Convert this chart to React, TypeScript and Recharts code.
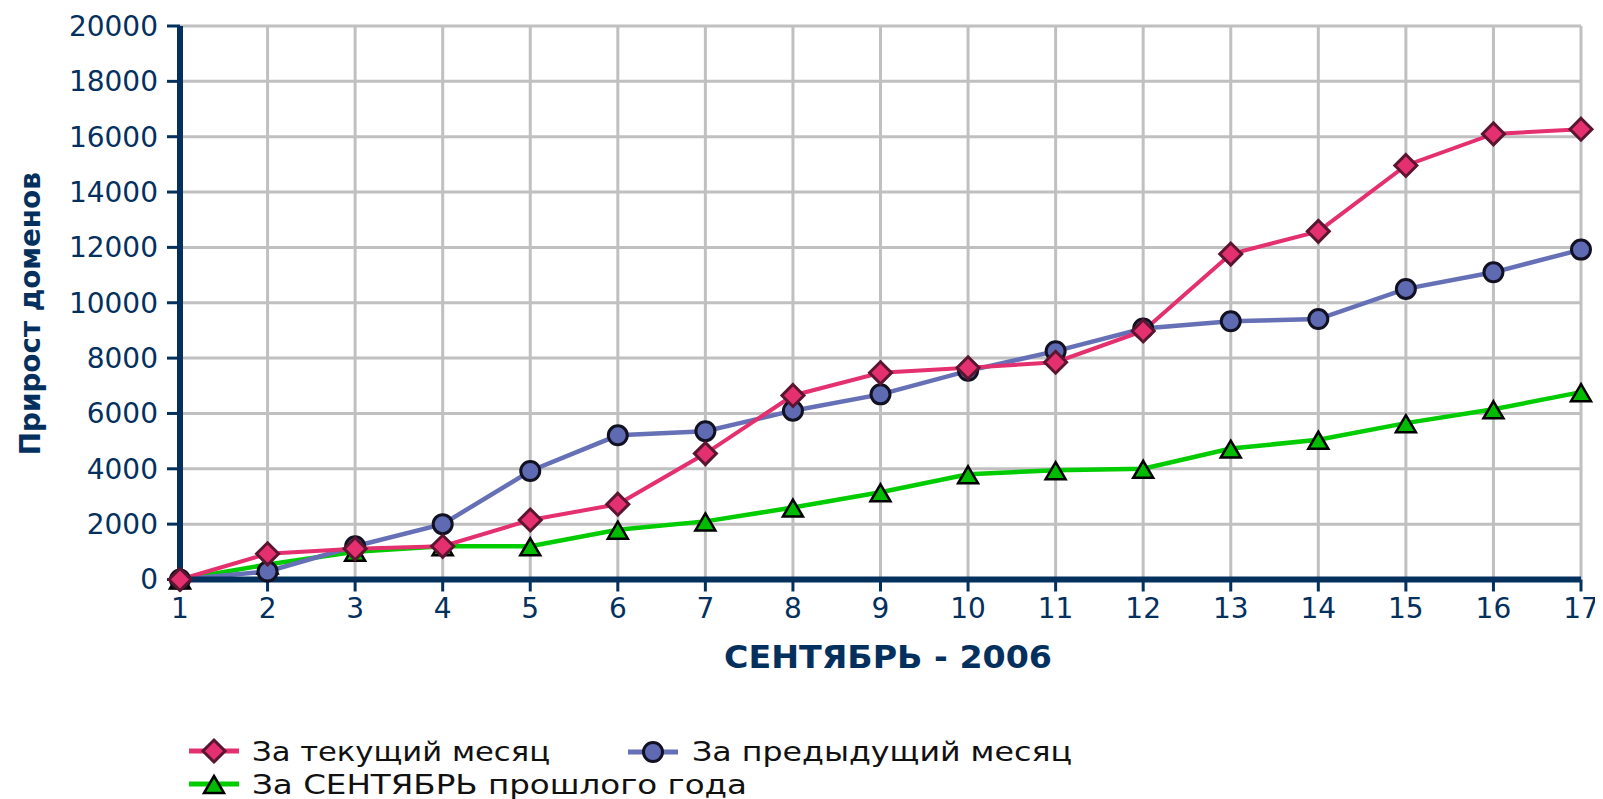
import React from 'react';
import { LineChart, Line, XAxis, YAxis, CartesianGrid } from 'recharts';

const days = [1, 2, 3, 4, 5, 6, 7, 8, 9, 10, 11, 12, 13, 14, 15, 16, 17];
const currentMonth = [0, 930, 1110, 1200, 2150, 2720, 4550, 6650, 7470, 7650, 7850, 8980, 11760, 12580, 14960, 16100, 16270];
const previousMonth = [0, 290, 1200, 2000, 3920, 5210, 5360, 6100, 6690, 7540, 8250, 9070, 9330, 9410, 10500, 11100, 11920];
const lastYearSeptember = [0, 540, 1000, 1200, 1200, 1800, 2100, 2600, 3150, 3800, 3950, 4000, 4730, 5050, 5650, 6150, 6770];
const yTicks = [0, 2000, 4000, 6000, 8000, 10000, 12000, 14000, 16000, 18000, 20000];
const seriesNames = ['За текущий месяц', 'За предыдущий месяц', 'За СЕНТЯБРЬ прошлого года'];
const xAxisTitle = 'СЕНТЯБРЬ - 2006';
const yAxisTitle = 'Прирост доменов';

const data = days.map((d, i) => ({
  day: d,
  cur: currentMonth[i],
  prev: previousMonth[i],
  last: lastYearSeptember[i],
}));

const NAVY = '#04305e';
const PINK = '#e4306e';
const PINK_STROKE = '#5a1630';
const BLUE = '#6670b6';
const BLUE_FILL = '#5e6ab2';
const GREEN = '#00cc00';
const GREEN_FILL = '#00bb00';
const GRID = '#c0c0c0';

const Diamond = (props: any) => {
  const { cx, cy, index } = props;
  if (cx == null || cy == null) return <g key={index} />;
  const r = 11;
  return (
    <path
      key={`d${index}`}
      d={`M${cx},${cy - r}L${cx + r},${cy}L${cx},${cy + r}L${cx - r},${cy}Z`}
      fill={PINK}
      stroke={PINK_STROKE}
      strokeWidth={3}
    />
  );
};

const Circle = (props: any) => {
  const { cx, cy, index } = props;
  if (cx == null || cy == null) return <g key={index} />;
  return <circle key={`c${index}`} cx={cx} cy={cy} r={9.5} fill={BLUE_FILL} stroke="#111122" strokeWidth={3} />;
};

const Triangle = (props: any) => {
  const { cx, cy, index } = props;
  if (cx == null || cy == null) return <g key={index} />;
  return (
    <path
      key={`t${index}`}
      d={`M${cx},${cy - 8}L${cx + 10},${cy + 9}L${cx - 10},${cy + 9}Z`}
      fill={GREEN_FILL}
      stroke="#000"
      strokeWidth={2.5}
    />
  );
};

const XTitle = (props: any) => {
  const vb = props.viewBox;
  return (
    <text
      x={vb.x + vb.width / 2 + 7.5}
      y={vb.y + 88}
      textAnchor="middle"
      fill={NAVY}
      fontFamily="DejaVu Sans"
      fontWeight="bold"
      fontSize={32}
      textLength={328}
      lengthAdjust="spacingAndGlyphs"
    >
      {xAxisTitle}
    </text>
  );
};

const YTitle = (props: any) => {
  const vb = props.viewBox;
  const x = 32;
  const y = vb.y + vb.height / 2 + 11;
  return (
    <text
      x={x}
      y={y}
      transform={`rotate(-90 ${x} ${y})`}
      textAnchor="middle"
      fill={NAVY}
      fontFamily="DejaVu Sans"
      fontWeight="bold"
      fontSize={29}
      textLength={283}
      lengthAdjust="spacingAndGlyphs"
    >
      {yAxisTitle}
    </text>
  );
};

const LegendIcon = ({ kind, x, y }: { kind: number; x: number; y: number }) => {
  const color = kind === 0 ? PINK : kind === 1 ? BLUE : GREEN;
  const cx = x + 25;
  return (
    <g>
      <line x1={x} y1={y} x2={x + 50} y2={y} stroke={color} strokeWidth={5} />
      {kind === 0 && <Diamond cx={cx} cy={y} index={0} />}
      {kind === 1 && <Circle cx={cx} cy={y} index={0} />}
      {kind === 2 && <Triangle cx={cx} cy={y} index={0} />}
    </g>
  );
};

export default function App() {
  const legendItems = [
    { kind: 0, ix: 181, iy: 743, tx: 244, ty: 753, w: 298 },
    { kind: 1, ix: 620, iy: 744, tx: 684, ty: 753, w: 380 },
    { kind: 2, ix: 181, iy: 776, tx: 244, ty: 786, w: 495 },
  ];
  return (
    <div style={{ position: 'relative', width: 1594, height: 791, background: '#fff' }}>
      <LineChart
        width={1594}
        height={700}
        data={data}
        margin={{ top: 18, right: 21, left: 0, bottom: 0 }}
      >
        <CartesianGrid stroke={GRID} strokeWidth={3} />
        <XAxis
          dataKey="day"
          type="number"
          domain={[1, 17]}
          ticks={days}
          height={128.5}
          axisLine={{ stroke: NAVY, strokeWidth: 6 }}
          tickLine={{ stroke: NAVY, strokeWidth: 3 }}
          tickSize={12}
          tickMargin={7}
          tick={{ fill: NAVY, fontSize: 28, fontFamily: 'DejaVu Sans' }}
          label={<XTitle />}
        />
        <YAxis
          type="number"
          domain={[0, 20000]}
          ticks={yTicks}
          width={172}
          axisLine={{ stroke: NAVY, strokeWidth: 6 }}
          tickLine={{ stroke: NAVY, strokeWidth: 3 }}
          tickSize={13}
          tickMargin={9}
          tick={{ fill: NAVY, fontSize: 28, fontFamily: 'DejaVu Sans' }}
          label={<YTitle />}
        />
        <Line
          dataKey="last"
          stroke={GREEN}
          strokeWidth={4.5}
          dot={Triangle}
          activeDot={false}
          isAnimationActive={false}
        />
        <Line
          dataKey="prev"
          stroke={BLUE}
          strokeWidth={4.5}
          dot={Circle}
          activeDot={false}
          isAnimationActive={false}
        />
        <Line
          dataKey="cur"
          stroke={PINK}
          strokeWidth={4}
          dot={Diamond}
          activeDot={false}
          isAnimationActive={false}
        />
      </LineChart>
      <svg
        width={1594}
        height={791}
        style={{ position: 'absolute', left: 0, top: 0, pointerEvents: 'none' }}
      >
        {legendItems.map((it, i) => (
          <g key={i}>
            <LegendIcon kind={it.kind} x={it.ix} y={it.iy} />
            <text
              x={it.tx}
              y={it.ty}
              fill="#111"
              fontFamily="DejaVu Sans"
              fontSize={27}
              textLength={it.w}
              lengthAdjust="spacingAndGlyphs"
            >
              {seriesNames[it.kind]}
            </text>
          </g>
        ))}
      </svg>
    </div>
  );
}
